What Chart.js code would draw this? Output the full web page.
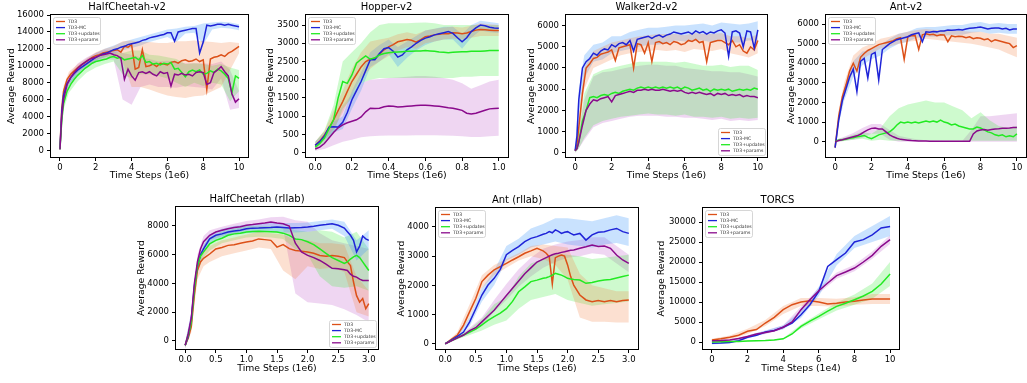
<!DOCTYPE html>
<html><head><meta charset="utf-8">
<script src="https://cdn.jsdelivr.net/npm/chart.js@4.4.1/dist/chart.umd.min.js"></script>
<style>
html,body{margin:0;padding:0;background:#fff;width:1027px;height:383px;overflow:hidden;}
#wrap{position:relative;width:1027px;height:383px;overflow:hidden;}
canvas{position:absolute;}
</style></head><body><div id="wrap"></div>
<script>
// ---------------- DATA ----------------
const seriesLabels = ['TD3','TD3-MC','TD3+updates','TD3+params'];

// MuJoCo v2 x grids (1e6 steps)
const mujocoX = [0,0.1,0.2,0.4,0.6,0.8,1,1.2,1.4,1.6,1.8,2,2.2,2.4,2.6,2.8,3,3.2,3.4,3.6,3.8,4,4.2,4.4,4.6,4.8,5,5.2,5.4,5.6,5.8,6,6.2,6.4,6.6,6.8,7,7.2,7.4,7.6,7.8,8,8.2,8.4,8.6,8.8,9,9.2,9.4,9.6,9.8,10];
const mujocoBandX = [0,0.2,0.5,1,1.5,2,2.5,3,3.5,4,4.5,5,5.5,6,6.5,7,7.5,8,8.5,9,9.5,10];
const mujocoXTicks = [0,2,4,6,8,10];
const mujocoXTickLabels = ['0','2','4','6','8','10'];

// HalfCheetah-v2
const hcTD3 = [200,5000,7000,8400,9000,9400,9800,10100,10400,10700,11000,11200,11300,11500,11600,11700,11800,11900,11600,12300,12200,12500,9600,9800,11900,9900,10000,10200,9900,10300,10200,10100,10400,10500,10300,10600,10700,10500,10600,10800,10500,10700,7200,10800,11000,11100,11300,11100,11500,11700,12000,12300];
const hcMC = [200,4500,6500,7900,8600,9100,9500,9800,10100,10400,10700,11000,11200,11400,11500,11700,11900,12000,12200,12300,12500,12600,12700,12800,13000,13100,13300,13400,13500,13600,13700,13900,13900,12900,14000,14100,14200,14300,14400,14400,11500,12800,14800,14700,14800,14900,14900,14800,14900,14800,14700,14600];
const hcUpd = [100,3500,5500,7000,7800,8400,8900,9300,9700,10000,10300,10500,10600,10700,10800,11000,11100,10900,11000,10700,10800,10900,11000,10700,11200,10400,10500,10200,10300,10100,10300,10200,10400,9600,9700,9200,8700,9300,9500,9300,9500,9000,9100,9400,9200,9600,9400,9000,8500,6800,8800,8500];
const hcPar = [100,4000,6000,7800,8600,9200,9700,10100,10400,10700,10900,11000,11200,11300,11400,11500,11300,11200,10900,8400,9600,8800,8300,9200,9300,9100,9300,9000,8800,9300,9100,9200,7600,9000,8900,9100,8900,9000,8800,9200,9300,9200,7800,8000,9200,9500,9900,9300,8800,6700,5700,6100];
const hcTD3Lo = [0,6300,8300,9300,10100,10700,11000,11200,10500,7500,7500,7200,6800,6500,6300,6200,6400,6500,7000,7500,9500,11500];
const hcTD3Hi = [400,7600,9300,10200,10900,11600,12000,12300,12900,13000,12800,12800,12700,12700,12900,12900,13000,12900,12800,12700,12800,12700];
const hcMCLo = [0,5800,7800,9100,9900,10600,11000,11400,11800,12100,12400,12800,13100,13400,12800,13800,13900,12500,14300,14500,14400,14200];
const hcMCHi = [400,7200,8800,10000,10800,11500,12000,12400,12800,13100,13400,13700,14000,14300,14400,14600,14700,15000,15100,15200,15100,14900];
const hcUpdLo = [0,4800,6800,8200,9200,9800,10200,10500,9000,8500,9000,9000,8800,8500,8000,7500,8000,7600,8000,7800,5800,7000];
const hcUpdHi = [300,6300,8300,9600,10600,11000,11300,11600,11500,11800,11800,11300,11200,11000,10800,10200,10300,10200,10000,10200,9800,9500];
const hcParLo = [0,5300,7600,9100,10000,10500,10800,10700,6000,5400,7500,7800,7500,7500,7400,7600,7500,7400,7200,8500,4800,5000];
const hcParHi = [300,6700,9000,10300,11000,11500,11900,11900,11500,11300,11000,10800,10500,10600,10500,10300,10300,10300,10200,10500,9500,7000];
const hcYTicks = [0,2000,4000,6000,8000,10000,12000,14000,16000];

// Hopper-v2
const hopX = [0,0.025,0.05,0.075,0.1,0.125,0.15,0.175,0.2,0.225,0.25,0.275,0.3,0.325,0.35,0.375,0.4,0.425,0.45,0.475,0.5,0.525,0.55,0.575,0.6,0.625,0.65,0.675,0.7,0.725,0.75,0.775,0.8,0.825,0.85,0.875,0.9,0.925,0.95,0.975,1.0];
const hopBandX = [0,0.05,0.1,0.15,0.2,0.25,0.3,0.35,0.4,0.45,0.5,0.55,0.6,0.65,0.7,0.75,0.8,0.85,0.9,0.95,1.0];
const hopTD3 = [200,320,480,680,900,1150,1400,1680,1950,2150,2350,2500,2560,2580,2700,2820,2900,2960,3040,3070,3100,3080,3030,3100,3180,3200,3230,3250,3270,3260,3290,3280,3260,3280,3320,3360,3380,3370,3360,3350,3350];
const hopMC = [200,300,450,700,710,700,830,1100,1450,1700,1950,2250,2550,2550,2720,2850,2880,2780,2620,2680,2820,2900,3000,3080,3140,3180,3230,3260,3290,3320,3270,3150,3040,3150,3320,3420,3500,3480,3440,3420,3410];
const hopUpd = [150,250,400,650,900,1500,1950,1900,2130,2450,2560,2650,2560,2600,2680,2720,2740,2750,2760,2770,2780,2780,2790,2790,2800,2790,2780,2760,2750,2740,2750,2760,2770,2770,2780,2780,2780,2790,2800,2800,2800];
const hopPar = [100,150,250,400,550,680,760,820,860,900,980,1120,1220,1210,1220,1260,1280,1270,1250,1260,1270,1280,1290,1300,1300,1290,1280,1270,1250,1230,1220,1190,1160,1080,1060,1080,1120,1160,1200,1210,1220];
const hopTD3Lo = [100,350,650,1100,1600,2050,2300,2500,2650,2800,2900,2850,3000,3050,3100,3130,3100,3150,3200,3200,3200];
const hopTD3Hi = [300,600,1150,1700,2300,2750,3050,3100,3150,3250,3300,3250,3350,3400,3430,3450,3430,3480,3550,3520,3500];
const hopMCLo = [100,350,550,650,1200,1700,2350,2500,2700,2350,2600,2800,2950,3050,3100,3100,2850,3150,3350,3300,3280];
const hopMCHi = [300,550,850,1000,1700,2200,2750,2950,3100,2900,3050,3200,3350,3400,3450,3450,3250,3500,3620,3580,3550];
const hopUpdLo = [50,250,550,1200,1500,1900,2000,2050,2050,2050,2050,2050,2050,2050,2050,2050,2080,2080,2100,2100,2100];
const hopUpdHi = [300,600,1300,2500,2750,3000,3300,3500,3550,3550,3550,3560,3570,3550,3500,3500,3500,3500,3500,3500,3500];
const hopParLo = [50,100,200,300,350,420,450,460,470,470,470,480,480,480,470,460,450,430,430,450,460];
const hopParHi = [150,400,900,1300,1600,1900,2000,2020,2050,2060,2080,2100,2100,2080,2050,2000,1900,1750,1850,1950,2000];
const hopXTicks = [0,0.2,0.4,0.6,0.8,1.0];
const hopXTickLabels = ['0.0','0.2','0.4','0.6','0.8','1.0'];
const hopYTicks = [0,500,1000,1500,2000,2500,3000,3500];

// Walker2d-v2
const wkTD3 = [100,400,1200,2800,4000,4200,4450,4500,4650,4700,4750,4850,4350,4950,5000,5050,5100,4000,5150,5100,4700,5200,4300,5200,5250,5150,5200,5100,5250,5200,5100,5150,5300,5250,5350,5200,5250,4300,5200,5250,5300,5300,5200,5100,5300,5000,5100,4800,4700,5000,4850,5300];
const wkMC = [100,800,2500,4000,4300,4450,4700,4600,4800,4900,4850,5100,5000,5150,5200,5100,5300,4800,5350,5400,5450,5500,5400,5500,5550,5450,5550,5600,5700,5650,5600,5650,5700,5600,5750,5650,5720,5600,5700,5650,5750,5800,5650,4550,5700,5750,5650,5000,5750,5700,4950,5800];
const wkUpd = [100,200,500,1500,2000,2600,2650,2600,2700,2750,2700,2800,2850,2800,2900,2950,3000,2950,3050,3100,3050,3100,3050,3100,3050,3100,3050,3100,3050,3100,3000,3100,3050,2950,3000,3050,2950,3000,2900,3000,2950,3000,2950,3000,2900,2950,3000,2950,3000,2950,3050,3000];
const wkPar = [100,200,500,1300,2000,2300,2500,2450,2550,2600,2650,2400,2700,2750,2800,2850,2900,2850,2950,2950,3000,2950,3000,2950,2950,3000,2950,2900,2950,2900,2950,2850,2800,2850,2800,2850,2800,2750,2800,2700,2800,2750,2800,2700,2750,2700,2750,2650,2700,2650,2650,2600];
const wkTD3Lo = [0,800,3000,4000,4200,4400,4600,4700,4750,4800,4850,4800,4850,4750,4900,4850,4800,4900,4700,4600,4500,4700];
const wkTD3Hi = [200,1600,4000,4800,5000,5200,5300,5400,5500,5550,5600,5600,5600,5550,5650,5600,5600,5650,5500,5500,5400,5600];
const wkMCLo = [0,1800,3500,4300,4400,4700,4800,4900,5000,5100,5100,5150,5300,5250,5300,5300,5200,5350,5200,5200,5300,5300];
const wkMCHi = [200,3000,4600,5100,5200,5500,5500,5700,5800,5900,5900,5950,6000,6000,6050,6100,6000,6150,6100,6050,6100,6200];
const wkUpdLo = [0,200,700,1300,1500,1600,1700,1750,1800,1850,1800,1800,1750,1800,1700,1700,1650,1700,1600,1650,1600,1650];
const wkUpdHi = [200,1000,2800,3700,3900,4000,4100,4200,4300,4300,4300,4300,4250,4300,4200,4100,4100,4150,4050,4100,4100,3900];
const wkParLo = [0,200,600,1200,1400,1500,1600,1700,1750,1750,1750,1700,1700,1650,1650,1600,1550,1600,1500,1550,1500,1550];
const wkParHi = [200,900,2500,3600,3800,3850,3950,4050,4100,4150,4150,4100,4100,4000,3950,3900,3850,3850,3800,3800,3700,3600];
const wkYTicks = [0,1000,2000,3000,4000,5000,6000];

// Ant-v2
const antTD3 = [-300,500,1300,2300,2900,3600,4000,3600,4300,4500,4650,4750,4850,4950,5000,5050,5100,5150,5250,5300,4200,5350,5400,5420,4700,5450,5500,5450,5480,5400,5450,5440,5100,5400,5350,5380,5360,5300,5350,5250,5300,5270,5200,5250,5100,5200,5150,5100,5050,5000,4800,4900];
const antMC = [-300,400,1100,2100,2700,3300,3700,2550,4100,4250,3250,4450,4550,3150,4700,4850,5000,5100,5200,5250,5300,5350,5450,5500,5550,5100,5600,5580,5620,5600,5650,5650,5700,5680,5700,5720,5700,5750,5780,5800,5820,5850,5800,5750,5780,5800,5800,5750,5780,5700,5750,5750];
const antUpd = [0,50,80,100,130,170,200,250,280,320,220,150,250,350,400,450,500,650,850,1000,950,1000,950,1000,950,1000,1050,1000,1050,1000,1100,1000,950,850,900,800,750,700,650,650,750,700,600,500,450,350,300,350,250,300,250,400];
const antPar = [0,30,60,100,150,200,250,300,380,500,600,680,700,650,650,500,350,250,180,120,100,80,60,50,40,30,30,25,20,20,20,20,20,20,20,20,20,20,20,400,550,600,620,580,620,650,660,680,690,700,720,720];
const antTD3Lo = [-400,1000,2300,3600,4200,4500,4750,4850,5000,5100,5150,5250,5200,5150,5100,5050,5000,4900,4800,4700,4500,4300];
const antTD3Hi = [-200,1600,3000,4400,4800,5000,5250,5350,5500,5600,5700,5750,5700,5700,5650,5650,5600,5600,5500,5500,5400,5300];
const antMCLo = [-400,900,2100,3300,3900,4200,4400,4750,5000,5100,5300,5350,5350,5400,5450,5450,5550,5600,5500,5550,5500,5500];
const antMCHi = [-200,1300,2700,4100,4600,4700,4950,5250,5500,5600,5800,5850,5850,5900,5950,5950,6050,6100,6000,6050,6000,6000];
const antUpdLo = [-50,0,30,100,150,50,100,50,50,50,50,50,50,50,50,50,50,50,50,50,50,50];
const antUpdHi = [50,150,200,350,500,400,700,1300,1700,1900,2000,2100,2000,2000,1800,1600,1200,1500,1100,800,700,800];
const antParLo = [-50,0,50,100,200,400,400,100,0,0,0,0,0,0,0,0,0,0,0,0,0,0];
const antParHi = [50,150,250,450,700,900,900,600,300,200,120,80,60,50,50,50,600,1300,1300,1350,1400,1450];
const antYTicks = [0,1000,2000,3000,4000,5000,6000];

// rllab x grids
const rllabXTicks = [0,0.5,1.0,1.5,2.0,2.5,3.0];
const rllabXTickLabels = ['0.0','0.5','1.0','1.5','2.0','2.5','3.0'];

// HalfCheetah (rllab)
const hcrX = [0,0.05,0.1,0.15,0.2,0.25,0.3,0.4,0.5,0.6,0.7,0.8,0.9,1.0,1.1,1.2,1.3,1.4,1.5,1.6,1.7,1.8,1.9,2.0,2.1,2.2,2.3,2.4,2.5,2.6,2.65,2.7,2.75,2.8,2.85,2.9,2.95,3.0];
const hcrTD3 = [-300,200,1000,3200,4900,5500,5750,6050,6400,6500,6650,6700,6800,6880,6950,7100,7050,7000,6530,6700,6420,6300,6250,6190,6100,5950,5900,5950,5900,5800,5500,5250,4100,3150,2700,2950,2250,2600];
const hcrMC = [-300,300,1500,3800,5200,6000,6400,7100,7350,7450,7580,7650,7700,7800,7850,7860,7880,7900,7930,7900,7860,7880,7900,7930,7980,8050,8100,8160,8050,7850,7600,7350,7000,6200,6600,7300,7100,7000];
const hcrUpd = [-300,400,1300,3600,5250,5900,6200,6750,7000,7150,7350,7450,7500,7580,7620,7630,7620,7600,7580,7500,7350,7100,7050,6900,6700,6400,6100,5800,5600,5400,5500,5700,5850,5950,5800,5500,5200,4900];
const hcrPar = [-300,500,1600,4000,5500,6400,6900,7350,7580,7700,7800,7900,7950,8050,8100,8160,8200,8280,8200,8150,8000,6800,6190,5950,5800,5600,5350,5050,5020,4950,4900,4650,4500,4440,4300,4210,4200,4210];
const hcrBandX = [0,0.1,0.2,0.3,0.4,0.6,0.8,1.0,1.2,1.4,1.6,1.8,2.0,2.2,2.4,2.6,2.8,3.0];
const hcrTD3Lo = [-500,600,4300,5200,5500,5900,6100,6300,6500,6400,4900,4300,5200,5000,5100,4800,2000,1700];
const hcrTD3Hi = [-100,1400,5500,6300,6600,7000,7200,7400,7600,7500,7400,7000,7000,6800,6800,6700,4500,3500];
const hcrMCLo = [-500,1000,4800,6100,6800,7200,7400,7500,7550,7600,7550,7550,7600,7700,7800,7300,5600,6400];
const hcrMCHi = [-100,2000,5600,6700,7400,7800,8000,8100,8150,8200,8200,8200,8250,8350,8450,8300,7000,7700];
const hcrUpdLo = [-500,900,4800,5800,6300,6800,7000,7200,7250,7200,7100,6400,6000,4500,3800,3700,3800,3500];
const hcrUpdHi = [-100,1700,5700,6600,7200,7600,7800,8000,8000,8000,7950,7700,7600,7700,7600,7200,7600,6400];
const hcrParLo = [-500,1200,5000,6500,7000,7300,7500,7700,7800,7900,7800,3300,2700,2600,2500,2200,1800,1300];
const hcrParHi = [-100,2000,6000,7300,7700,7950,8150,8350,8450,8600,8650,8400,8300,7500,7000,6800,6600,6400];
const hcrYTicks = [0,2000,4000,6000,8000];

// Ant (rllab)
const antrX = [0,0.1,0.2,0.3,0.4,0.5,0.6,0.7,0.8,0.9,1.0,1.1,1.2,1.3,1.4,1.5,1.6,1.65,1.7,1.75,1.8,1.85,1.9,1.95,2.0,2.05,2.1,2.2,2.3,2.4,2.5,2.6,2.7,2.8,2.9,3.0];
const antrTD3 = [0,150,300,640,1100,1550,2130,2350,2530,2640,2750,2870,2980,3100,3180,3270,3180,3100,2980,2050,2950,3000,3040,3000,2700,2300,2010,1670,1500,1440,1480,1440,1480,1440,1480,1500];
const antrMC = [0,120,250,400,750,1200,1670,2010,2240,2550,3050,3200,3330,3500,3610,3670,3750,3780,3840,3800,3900,3850,3780,3820,3840,3780,3730,3780,3550,3730,3820,3840,3900,3950,3840,3780];
const antrUpd = [0,100,200,300,400,500,650,800,930,1050,1200,1450,1780,1950,2130,2180,2240,2260,2300,2350,2410,2380,2350,2300,2240,2220,2200,2180,2070,2100,2150,2180,2200,2250,2300,2350];
const antrPar = [0,100,200,300,450,550,750,950,1150,1400,1650,1900,2150,2400,2600,2800,2900,2950,3000,3050,3080,3100,3130,3150,3180,3200,3210,3270,3320,3380,3330,3350,3270,3040,2870,2750];
const antrBandX = [0,0.2,0.4,0.6,0.8,1.0,1.2,1.4,1.6,1.8,2.0,2.2,2.4,2.6,2.8,3.0];
const antrTD3Lo = [0,200,900,1900,2350,2600,2850,3000,2900,2700,2200,900,750,750,730,730];
const antrTD3Hi = [0,400,1350,2350,2700,2900,3100,3350,3400,3350,3300,2400,2000,1900,1800,1800];
const antrMCLo = [0,200,600,1450,2000,2850,3050,3300,3400,3500,3400,3350,3300,3400,3450,3350];
const antrMCHi = [0,300,900,1900,2500,3350,3600,3950,4100,4300,4300,4250,4200,4300,4400,4300];
const antrUpdLo = [0,150,300,450,650,800,1200,1500,1600,1700,1500,1400,1300,1350,1400,1450];
const antrUpdHi = [0,250,500,850,1350,1600,2300,2750,2900,3100,3050,3000,2900,2950,3000,3050];
const antrParLo = [0,150,350,600,1100,1500,1950,2300,2600,2800,2950,3000,3100,3050,2750,2450];
const antrParHi = [0,250,550,900,1500,2050,2550,2950,3250,3400,3500,3550,3650,3650,3350,3050];
const antrYTicks = [0,1000,2000,3000,4000];

// TORCS
const torX = [0,0.5,1,1.5,2,2.5,3,3.5,4,4.5,5,5.5,6,6.5,7,7.5,8,8.5,9,9.5,10];
const torTD3 = [500,800,1170,1700,2670,3100,4750,6170,8080,9330,10000,10330,10000,9500,9670,10000,10170,10500,10750,10750,10750];
const torMC = [-300,-250,-100,300,1200,1700,2500,2900,3670,4750,6830,9330,12670,18900,20600,22250,25000,25600,26800,28500,28900];
const torUpd = [0,50,100,150,250,300,350,500,800,2000,3900,5200,6400,7700,8900,9700,10580,11500,12670,14500,17000];
const torPar = [300,350,500,900,1400,2000,2400,2800,3700,5000,8080,10580,12830,14750,16580,17500,18500,20000,21670,23920,25580];
const torBandX = [0,1,2,3,4,5,6,7,8,9,10];
const torTD3Lo = [200,700,2000,4000,7000,9000,9000,8800,9300,9500,9500];
const torTD3Hi = [800,1600,3300,5500,9000,11000,11000,10800,11200,12000,12000];
const torMCLo = [-600,-300,900,2100,3200,6000,11500,19200,23500,25000,26500];
const torMCHi = [0,200,1600,2900,4200,7800,13800,22000,26500,29000,31500];
const torUpdLo = [-100,0,150,250,650,3400,5700,7900,9300,10800,14000];
const torUpdHi = [100,200,350,450,950,4400,7100,9900,11900,14600,20000];
const torParLo = [100,300,1100,2000,3200,7300,12200,15800,17700,20800,24500];
const torParHi = [500,700,1700,2800,4200,8800,13500,17400,19300,22600,26700];
const torXTicks = [0,2,4,6,8,10];
const torXTickLabels = ['0','2','4','6','8','10'];
const torYTicks = [0,5000,10000,15000,20000,25000,30000];

// ---------------- STYLE ----------------
const FONT = '"DejaVu Sans", sans-serif';
const LINE_COLORS = ['#dc5018','#1f24d8','#22ea22','#8a0a8c'];
const BAND_COLORS = ['rgba(244,130,70,0.25)','rgba(60,150,250,0.28)','rgba(60,235,60,0.25)','rgba(190,90,205,0.25)'];

function pts(xs, ys){ return xs.map((x,i)=>({x:x, y:ys[i]})); }

const framePlugin = {
  id:'frame',
  afterDatasetsDraw(chart){
    const {ctx, chartArea:a} = chart;
    const l = Math.round(a.left), t = Math.round(a.top), r = Math.round(a.right), b = Math.round(a.bottom);
    ctx.save();
    ctx.strokeStyle = '#000'; ctx.lineWidth = 1;
    ctx.strokeRect(l-0.5, t-0.5, r-l+1, b-t+1);
    ctx.restore();
  }
};

const legendPlugin = {
  id:'mplLegend',
  afterDraw(chart, args, opts){
    const {ctx, chartArea:a} = chart;
    const bw = 47, bh = 27;
    let x0, y0;
    if (opts.corner === 'br') { x0 = a.right - bw - 2; y0 = a.bottom - bh - 2; }
    else { x0 = a.left + 2; y0 = a.top + 2; }
    ctx.save();
    ctx.fillStyle = 'rgba(255,255,255,0.85)';
    ctx.strokeStyle = '#cccccc';
    ctx.lineWidth = 0.8;
    ctx.beginPath();
    if (ctx.roundRect) ctx.roundRect(x0+0.5, y0+0.5, bw, bh, 2); else ctx.rect(x0+0.5, y0+0.5, bw, bh);
    ctx.fill(); ctx.stroke();
    ctx.font = '4.6px ' + FONT;
    ctx.textBaseline = 'middle';
    seriesLabels.forEach((lab, i) => {
      const y = y0 + 4.5 + i * 6.1;
      ctx.strokeStyle = LINE_COLORS[i]; ctx.lineWidth = 1.3;
      ctx.beginPath(); ctx.moveTo(x0 + 3, y); ctx.lineTo(x0 + 12, y); ctx.stroke();
      ctx.fillStyle = '#333'; ctx.fillText(lab, x0 + 15, y);
    });
    ctx.restore();
  }
};

function makeChart(spec){
  const p = spec.pos;
  const cw = p.W + p.w + 6, chh = 15 + p.h + p.H;
  const cv = document.createElement('canvas');
  cv.width = cw; cv.height = chh;
  cv.style.left = (p.l - p.W) + 'px';
  cv.style.top = (p.t - 15) + 'px';
  cv.style.width = cw + 'px'; cv.style.height = chh + 'px';
  document.getElementById('wrap').appendChild(cv);

  const datasets = [];
  spec.series.forEach((s, i) => {
    datasets.push({data: pts(spec.bandX, s.hi), borderWidth:0, pointRadius:0, backgroundColor: BAND_COLORS[i], fill:'+1', order:10, tension:0});
    datasets.push({data: pts(spec.bandX, s.lo), borderWidth:0, pointRadius:0, fill:false, order:10, tension:0});
  });
  spec.series.forEach((s, i) => {
    datasets.push({data: pts(spec.x, s.mean), borderColor: LINE_COLORS[i], borderWidth:1.5, pointRadius:0, fill:false, order: 4 - i, tension:0});
  });

  const tickFont = {family: FONT, size: 8.5};
  const axTitleFont = {family: FONT, size: 9.3, lineHeight: 1.2};
  new Chart(cv, {
    type:'line',
    data:{datasets},
    plugins:[framePlugin, legendPlugin],
    options:{
      responsive:false, animation:false, devicePixelRatio:1,
      layout:{padding:{left:0,right:6,top:0,bottom:0}},
      plugins:{
        legend:{display:false}, tooltip:{enabled:false},
        title:{display:true, text:spec.title, color:'#000', font:{family:FONT, size:10, weight:'normal', lineHeight:1.2}, padding:{top:1.5, bottom:1.5}},
        mplLegend:{corner: spec.legend}
      },
      scales:{
        x:{type:'linear', min:spec.xRange[0], max:spec.xRange[1],
          afterBuildTicks: s => { s.ticks = spec.xTicks.map(v => ({value:v})); },
          afterFit: s => { s.height = p.H; },
          ticks:{autoSkip:false, maxRotation:0, minRotation:0, padding:2, color:'#000', font:tickFont, callback:(v,i)=>spec.xTickLabels[i]},
          grid:{display:true, drawOnChartArea:false, drawTicks:true, tickLength:4, color:'#000', lineWidth:1},
          border:{display:false},
          title:{display:true, text:spec.xTitle, color:'#000', font:axTitleFont, padding:0}
        },
        y:{type:'linear', min:spec.yRange[0], max:spec.yRange[1],
          afterBuildTicks: s => { s.ticks = spec.yTicks.map(v => ({value:v})); },
          afterFit: s => { s.width = p.W; },
          ticks:{autoSkip:false, padding:3, color:'#000', font:tickFont, callback:(v,i)=>String(spec.yTicks[i])},
          grid:{display:true, drawOnChartArea:false, drawTicks:true, tickLength:4, color:'#000', lineWidth:1},
          border:{display:false},
          title:{display:true, text:'Average Reward', color:'#000', font:axTitleFont, padding:0}
        }
      }
    }
  });
}

function ser(mean, lo, hi){ return {mean, lo, hi}; }

makeChart({title:'HalfCheetah-v2', xTitle:'Time Steps (1e6)', pos:{l:51,t:15,w:197,h:142,W:45,H:24},
  xRange:[-0.5,10.5], yRange:[-780,16000], xTicks:mujocoXTicks, xTickLabels:mujocoXTickLabels, yTicks:hcYTicks,
  x:mujocoX, bandX:mujocoBandX, legend:'tl',
  series:[ser(hcTD3,hcTD3Lo,hcTD3Hi), ser(hcMC,hcMCLo,hcMCHi), ser(hcUpd,hcUpdLo,hcUpdHi), ser(hcPar,hcParLo,hcParHi)]});

makeChart({title:'Hopper-v2', xTitle:'Time Steps (1e6)', pos:{l:306,t:15,w:202,h:142,W:41,H:24},
  xRange:[-0.05,1.05], yRange:[-120,3775], xTicks:hopXTicks, xTickLabels:hopXTickLabels, yTicks:hopYTicks,
  x:hopX, bandX:hopBandX, legend:'tl',
  series:[ser(hopTD3,hopTD3Lo,hopTD3Hi), ser(hopMC,hopMCLo,hopMCHi), ser(hopUpd,hopUpdLo,hopUpdHi), ser(hopPar,hopParLo,hopParHi)]});

makeChart({title:'Walker2d-v2', xTitle:'Time Steps (1e6)', pos:{l:566,t:15,w:201,h:142,W:40,H:24},
  xRange:[-0.5,10.5], yRange:[-200,6500], xTicks:mujocoXTicks, xTickLabels:mujocoXTickLabels, yTicks:wkYTicks,
  x:mujocoX, bandX:mujocoBandX, legend:'br',
  series:[ser(wkTD3,wkTD3Lo,wkTD3Hi), ser(wkMC,wkMCLo,wkMCHi), ser(wkUpd,wkUpdLo,wkUpdHi), ser(wkPar,wkParLo,wkParHi)]});

makeChart({title:'Ant-v2', xTitle:'Time Steps (1e6)', pos:{l:826,t:15,w:200,h:142,W:40,H:24},
  xRange:[-0.5,10.5], yRange:[-780,6460], xTicks:mujocoXTicks, xTickLabels:mujocoXTickLabels, yTicks:antYTicks,
  x:mujocoX, bandX:mujocoBandX, legend:'tl',
  series:[ser(antTD3,antTD3Lo,antTD3Hi), ser(antMC,antMCLo,antMCHi), ser(antUpd,antUpdLo,antUpdHi), ser(antPar,antParLo,antParHi)]});

makeChart({title:'HalfCheetah (rllab)', xTitle:'Time Steps (1e6)', pos:{l:176,t:207,w:202,h:142,W:40,H:25},
  xRange:[-0.15,3.15], yRange:[-560,9320], xTicks:rllabXTicks, xTickLabels:rllabXTickLabels, yTicks:hcrYTicks,
  x:hcrX, bandX:hcrBandX, legend:'br',
  series:[ser(hcrTD3,hcrTD3Lo,hcrTD3Hi), ser(hcrMC,hcrMCLo,hcrMCHi), ser(hcrUpd,hcrUpdLo,hcrUpdHi), ser(hcrPar,hcrParLo,hcrParHi)]});

makeChart({title:'Ant (rllab)', xTitle:'Time Steps (1e6)', pos:{l:436,t:208,w:202,h:141,W:40,H:25},
  xRange:[-0.15,3.15], yRange:[-180,4650], xTicks:rllabXTicks, xTickLabels:rllabXTickLabels, yTicks:antrYTicks,
  x:antrX, bandX:antrBandX, legend:'tl',
  series:[ser(antrTD3,antrTD3Lo,antrTD3Hi), ser(antrMC,antrMCLo,antrMCHi), ser(antrUpd,antrUpdLo,antrUpdHi), ser(antrPar,antrParLo,antrParHi)]});

makeChart({title:'TORCS', xTitle:'Time Steps (1e4)', pos:{l:703,t:208,w:196,h:141,W:47,H:25},
  xRange:[-0.5,10.5], yRange:[-1750,33500], xTicks:torXTicks, xTickLabels:torXTickLabels, yTicks:torYTicks,
  x:torX, bandX:torBandX, legend:'tl',
  series:[ser(torTD3,torTD3Lo,torTD3Hi), ser(torMC,torMCLo,torMCHi), ser(torUpd,torUpdLo,torUpdHi), ser(torPar,torParLo,torParHi)]});
</script></body></html>
